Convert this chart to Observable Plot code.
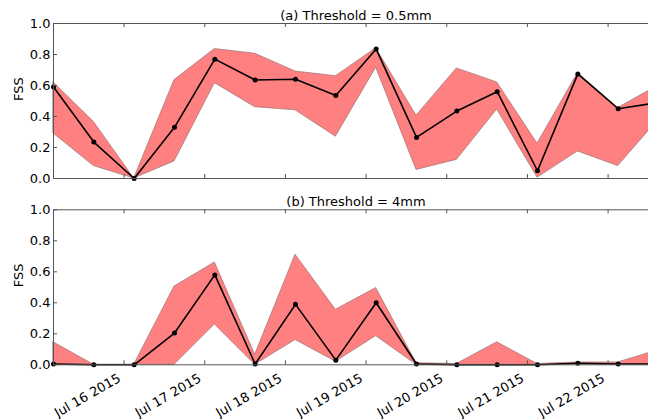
<!DOCTYPE html>
<html>
<head>
<meta charset="utf-8">
<script src="https://cdn.jsdelivr.net/npm/d3@7"></script>
<script src="https://cdn.jsdelivr.net/npm/@observablehq/plot@0.6"></script>
<style>
  html, body { margin: 0; padding: 0; background: white; overflow: hidden; }
  svg { display: block; }
</style>
</head>
<body>
<div id="chart"></div>
<script>
const times = [
  "2015-07-15T03:00Z", "2015-07-15T15:00Z", "2015-07-16T03:00Z", "2015-07-16T15:00Z",
  "2015-07-17T03:00Z", "2015-07-17T15:00Z", "2015-07-18T03:00Z", "2015-07-18T15:00Z",
  "2015-07-19T03:00Z", "2015-07-19T15:00Z", "2015-07-20T03:00Z", "2015-07-20T15:00Z",
  "2015-07-21T03:00Z", "2015-07-21T15:00Z", "2015-07-22T03:00Z", "2015-07-22T15:00Z"
];

// (a) Threshold = 0.5mm
const meanA  = [0.59, 0.235, 0.0, 0.33, 0.77, 0.635, 0.64, 0.535, 0.835, 0.265, 0.435, 0.56, 0.05, 0.675, 0.45, 0.49];
const upperA = [0.62, 0.365, 0.0, 0.635, 0.835, 0.805, 0.69, 0.66, 0.84, 0.405, 0.71, 0.62, 0.225, 0.68, 0.455, 0.6];
const lowerA = [0.29, 0.08, 0.0, 0.11, 0.615, 0.46, 0.44, 0.27, 0.715, 0.055, 0.12, 0.445, 0.005, 0.175, 0.08, 0.38];

// (b) Threshold = 4mm
const meanB  = [0.005, 0.0, 0.0, 0.205, 0.58, 0.005, 0.39, 0.03, 0.4, 0.005, 0.0, 0.0, 0.0, 0.01, 0.005, 0.005];
const upperB = [0.145, 0.0, 0.0, 0.505, 0.66, 0.065, 0.71, 0.355, 0.495, 0.01, 0.005, 0.145, 0.005, 0.015, 0.015, 0.095];
const lowerB = [0.0, 0.0, 0.0, 0.0, 0.26, 0.0, 0.16, 0.02, 0.185, 0.0, 0.0, 0.0, 0.0, 0.005, 0.0, 0.0];

const tickDates = ["2015-07-16T00:00Z", "2015-07-17T00:00Z", "2015-07-18T00:00Z", "2015-07-19T00:00Z",
                   "2015-07-20T00:00Z", "2015-07-21T00:00Z", "2015-07-22T00:00Z"];
const tickLabels = ["Jul 16 2015", "Jul 17 2015", "Jul 18 2015", "Jul 19 2015",
                    "Jul 20 2015", "Jul 21 2015", "Jul 22 2015"];
const yTicks = [0, 0.2, 0.4, 0.6, 0.8, 1.0];

const titles = ["(a) Threshold = 0.5mm", "(b) Threshold = 4mm"];

const W = 648, ML = 53, MR = -10, FH = 155;
const FW = W - MR - ML;
const spine = "#555";
const FS = 13;

function panel(mean, upper, lower, title, height, marginTop, marginBottom, showLabels) {
  const data = times.map((t, i) => ({t: new Date(t), m: mean[i], u: upper[i], l: lower[i]}));
  const ticks = tickDates.map((d, i) => ({d: new Date(d), label: tickLabels[i]}));
  const marks = [
    Plot.areaY(data, {x: "t", y1: "l", y2: "u", fill: "#ff8080", stroke: "#9a7272", strokeWidth: 0.7}),
    Plot.line(data, {x: "t", y: "m", stroke: "black", strokeWidth: 1.6}),
    Plot.dot(data, {x: "t", y: "m", r: 2.5, fill: "black"}),
    Plot.frame({stroke: spine, strokeWidth: 1}),
    Plot.tickX(ticks, {x: "d", insetBottom: FH - 4, stroke: spine}),
    Plot.tickX(ticks, {x: "d", insetTop: FH - 4, stroke: spine}),
    Plot.tickY(yTicks, {y: d => d, insetRight: FW - 4, stroke: spine}),
    Plot.text(yTicks, {y: d => d, text: d => d.toFixed(1), frameAnchor: "left", textAnchor: "end", dx: -3, fill: "black", fontSize: FS}),
    Plot.text([title], {text: d => d, frameAnchor: "top", lineAnchor: "bottom", dy: -3.5, fill: "black", fontSize: FS}),
    Plot.text(["FSS"], {text: d => d, frameAnchor: "left", rotate: -90, dx: -35, fill: "black", fontSize: FS})
  ];
  if (showLabels) {
    marks.push(Plot.text(ticks, {x: "d", text: "label", frameAnchor: "bottom", rotate: -30,
      textAnchor: "end", lineAnchor: "bottom", dx: -2.5, dy: 16, fill: "black", fontSize: FS}));
  }
  return Plot.plot({
    width: W, height, marginLeft: ML, marginRight: MR, marginTop, marginBottom,
    style: {fontFamily: "'DejaVu Sans', sans-serif", fontSize: "13px", background: "white", color: "black"},
    x: {type: "utc", domain: [new Date(times[0]), new Date(times[times.length - 1])], axis: null},
    y: {domain: [0, 1], axis: null},
    marks
  });
}

const root = document.getElementById("chart");
root.appendChild(panel(meanA, upperA, lowerA, titles[0], 190, 23, 12, false));
root.appendChild(panel(meanB, upperB, lowerB, titles[1], 229, 19.3, 54.7, true));
</script>
</body>
</html>
